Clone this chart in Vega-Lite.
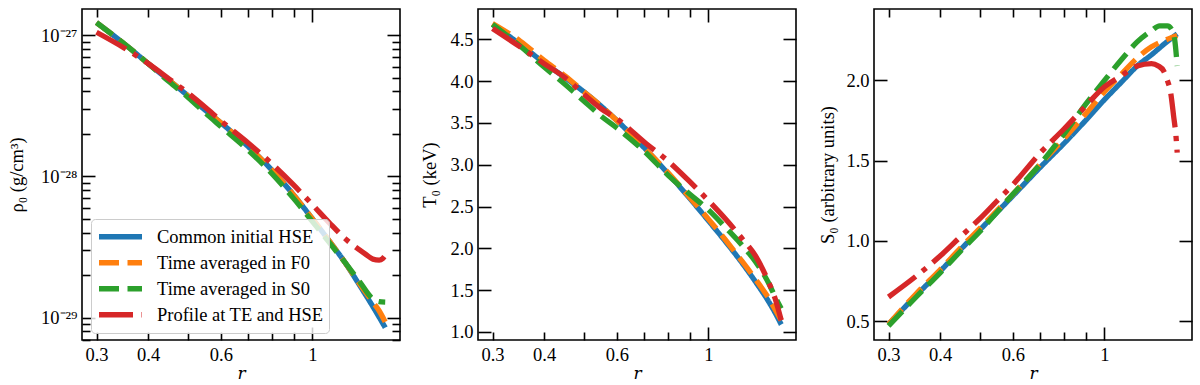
{
  "$schema": "https://vega.github.io/schema/vega-lite/v6.json",
  "padding": {"left": 6, "top": 7, "right": 0, "bottom": 0},
  "bounds": "flush",
  "spacing": 78,
  "resolve": {"scale": {"color": "independent", "strokeDash": "independent"}},
  "datasets": {
    "rho": [
      {"s": "Common initial HSE", "r": 0.3, "v": 1.23e-27},
      {"s": "Common initial HSE", "r": 0.35, "v": 8.71e-28},
      {"s": "Common initial HSE", "r": 0.4, "v": 6.31e-28},
      {"s": "Common initial HSE", "r": 0.45, "v": 4.79e-28},
      {"s": "Common initial HSE", "r": 0.5, "v": 3.72e-28},
      {"s": "Common initial HSE", "r": 0.55, "v": 2.95e-28},
      {"s": "Common initial HSE", "r": 0.6, "v": 2.40e-28},
      {"s": "Common initial HSE", "r": 0.7, "v": 1.62e-28},
      {"s": "Common initial HSE", "r": 0.8, "v": 1.10e-28},
      {"s": "Common initial HSE", "r": 0.9, "v": 7.41e-29},
      {"s": "Common initial HSE", "r": 1.0, "v": 5.01e-29},
      {"s": "Common initial HSE", "r": 1.1, "v": 3.47e-29},
      {"s": "Common initial HSE", "r": 1.2, "v": 2.45e-29},
      {"s": "Common initial HSE", "r": 1.3, "v": 1.70e-29},
      {"s": "Common initial HSE", "r": 1.4, "v": 1.20e-29},
      {"s": "Common initial HSE", "r": 1.45, "v": 1.01e-29},
      {"s": "Common initial HSE", "r": 1.5, "v": 8.51e-30},
      {"s": "Time averaged in F0", "r": 0.3, "v": 1.23e-27},
      {"s": "Time averaged in F0", "r": 0.35, "v": 8.71e-28},
      {"s": "Time averaged in F0", "r": 0.4, "v": 6.31e-28},
      {"s": "Time averaged in F0", "r": 0.45, "v": 4.79e-28},
      {"s": "Time averaged in F0", "r": 0.5, "v": 3.72e-28},
      {"s": "Time averaged in F0", "r": 0.55, "v": 2.95e-28},
      {"s": "Time averaged in F0", "r": 0.6, "v": 2.40e-28},
      {"s": "Time averaged in F0", "r": 0.7, "v": 1.62e-28},
      {"s": "Time averaged in F0", "r": 0.8, "v": 1.10e-28},
      {"s": "Time averaged in F0", "r": 0.9, "v": 7.41e-29},
      {"s": "Time averaged in F0", "r": 1.0, "v": 5.01e-29},
      {"s": "Time averaged in F0", "r": 1.1, "v": 3.47e-29},
      {"s": "Time averaged in F0", "r": 1.2, "v": 2.45e-29},
      {"s": "Time averaged in F0", "r": 1.3, "v": 1.74e-29},
      {"s": "Time averaged in F0", "r": 1.4, "v": 1.29e-29},
      {"s": "Time averaged in F0", "r": 1.45, "v": 1.12e-29},
      {"s": "Time averaged in F0", "r": 1.5, "v": 9.33e-30},
      {"s": "Time averaged in S0", "r": 0.3, "v": 1.23e-27},
      {"s": "Time averaged in S0", "r": 0.35, "v": 8.71e-28},
      {"s": "Time averaged in S0", "r": 0.4, "v": 6.31e-28},
      {"s": "Time averaged in S0", "r": 0.45, "v": 4.68e-28},
      {"s": "Time averaged in S0", "r": 0.5, "v": 3.63e-28},
      {"s": "Time averaged in S0", "r": 0.55, "v": 2.82e-28},
      {"s": "Time averaged in S0", "r": 0.6, "v": 2.26e-28},
      {"s": "Time averaged in S0", "r": 0.7, "v": 1.53e-28},
      {"s": "Time averaged in S0", "r": 0.8, "v": 1.04e-28},
      {"s": "Time averaged in S0", "r": 0.9, "v": 7.00e-29},
      {"s": "Time averaged in S0", "r": 1.0, "v": 4.79e-29},
      {"s": "Time averaged in S0", "r": 1.1, "v": 3.39e-29},
      {"s": "Time averaged in S0", "r": 1.2, "v": 2.45e-29},
      {"s": "Time averaged in S0", "r": 1.3, "v": 1.80e-29},
      {"s": "Time averaged in S0", "r": 1.4, "v": 1.36e-29},
      {"s": "Time averaged in S0", "r": 1.45, "v": 1.30e-29},
      {"s": "Time averaged in S0", "r": 1.5, "v": 1.29e-29},
      {"s": "Profile at TE and HSE", "r": 0.3, "v": 1.05e-27},
      {"s": "Profile at TE and HSE", "r": 0.35, "v": 8.13e-28},
      {"s": "Profile at TE and HSE", "r": 0.4, "v": 6.31e-28},
      {"s": "Profile at TE and HSE", "r": 0.45, "v": 4.90e-28},
      {"s": "Profile at TE and HSE", "r": 0.5, "v": 3.89e-28},
      {"s": "Profile at TE and HSE", "r": 0.55, "v": 3.09e-28},
      {"s": "Profile at TE and HSE", "r": 0.6, "v": 2.48e-28},
      {"s": "Profile at TE and HSE", "r": 0.7, "v": 1.72e-28},
      {"s": "Profile at TE and HSE", "r": 0.8, "v": 1.22e-28},
      {"s": "Profile at TE and HSE", "r": 0.9, "v": 8.71e-29},
      {"s": "Profile at TE and HSE", "r": 1.0, "v": 6.31e-29},
      {"s": "Profile at TE and HSE", "r": 1.1, "v": 4.68e-29},
      {"s": "Profile at TE and HSE", "r": 1.2, "v": 3.63e-29},
      {"s": "Profile at TE and HSE", "r": 1.3, "v": 3.02e-29},
      {"s": "Profile at TE and HSE", "r": 1.35, "v": 2.79e-29},
      {"s": "Profile at TE and HSE", "r": 1.4, "v": 2.60e-29},
      {"s": "Profile at TE and HSE", "r": 1.45, "v": 2.56e-29},
      {"s": "Profile at TE and HSE", "r": 1.48, "v": 2.63e-29},
      {"s": "Profile at TE and HSE", "r": 1.5, "v": 2.75e-29}
    ],
    "T": [
      {"s": "Common initial HSE", "r": 0.3, "v": 4.68},
      {"s": "Common initial HSE", "r": 0.35, "v": 4.44},
      {"s": "Common initial HSE", "r": 0.4, "v": 4.22},
      {"s": "Common initial HSE", "r": 0.45, "v": 4.04},
      {"s": "Common initial HSE", "r": 0.5, "v": 3.87},
      {"s": "Common initial HSE", "r": 0.55, "v": 3.70},
      {"s": "Common initial HSE", "r": 0.6, "v": 3.53},
      {"s": "Common initial HSE", "r": 0.7, "v": 3.20},
      {"s": "Common initial HSE", "r": 0.8, "v": 2.89},
      {"s": "Common initial HSE", "r": 0.9, "v": 2.60},
      {"s": "Common initial HSE", "r": 1.0, "v": 2.33},
      {"s": "Common initial HSE", "r": 1.1, "v": 2.08},
      {"s": "Common initial HSE", "r": 1.2, "v": 1.84},
      {"s": "Common initial HSE", "r": 1.3, "v": 1.60},
      {"s": "Common initial HSE", "r": 1.4, "v": 1.36},
      {"s": "Common initial HSE", "r": 1.45, "v": 1.23},
      {"s": "Common initial HSE", "r": 1.5, "v": 1.09},
      {"s": "Time averaged in F0", "r": 0.3, "v": 4.69},
      {"s": "Time averaged in F0", "r": 0.35, "v": 4.48},
      {"s": "Time averaged in F0", "r": 0.4, "v": 4.25},
      {"s": "Time averaged in F0", "r": 0.45, "v": 4.06},
      {"s": "Time averaged in F0", "r": 0.5, "v": 3.87},
      {"s": "Time averaged in F0", "r": 0.55, "v": 3.70},
      {"s": "Time averaged in F0", "r": 0.6, "v": 3.53},
      {"s": "Time averaged in F0", "r": 0.7, "v": 3.20},
      {"s": "Time averaged in F0", "r": 0.8, "v": 2.90},
      {"s": "Time averaged in F0", "r": 0.9, "v": 2.61},
      {"s": "Time averaged in F0", "r": 1.0, "v": 2.35},
      {"s": "Time averaged in F0", "r": 1.1, "v": 2.10},
      {"s": "Time averaged in F0", "r": 1.2, "v": 1.86},
      {"s": "Time averaged in F0", "r": 1.3, "v": 1.63},
      {"s": "Time averaged in F0", "r": 1.4, "v": 1.40},
      {"s": "Time averaged in F0", "r": 1.45, "v": 1.27},
      {"s": "Time averaged in F0", "r": 1.5, "v": 1.14},
      {"s": "Time averaged in S0", "r": 0.3, "v": 4.68},
      {"s": "Time averaged in S0", "r": 0.35, "v": 4.42},
      {"s": "Time averaged in S0", "r": 0.4, "v": 4.17},
      {"s": "Time averaged in S0", "r": 0.45, "v": 3.96},
      {"s": "Time averaged in S0", "r": 0.5, "v": 3.76},
      {"s": "Time averaged in S0", "r": 0.55, "v": 3.58},
      {"s": "Time averaged in S0", "r": 0.6, "v": 3.44},
      {"s": "Time averaged in S0", "r": 0.7, "v": 3.16},
      {"s": "Time averaged in S0", "r": 0.8, "v": 2.87},
      {"s": "Time averaged in S0", "r": 0.9, "v": 2.65},
      {"s": "Time averaged in S0", "r": 1.0, "v": 2.46},
      {"s": "Time averaged in S0", "r": 1.1, "v": 2.25},
      {"s": "Time averaged in S0", "r": 1.2, "v": 2.05},
      {"s": "Time averaged in S0", "r": 1.3, "v": 1.84},
      {"s": "Time averaged in S0", "r": 1.4, "v": 1.58},
      {"s": "Time averaged in S0", "r": 1.45, "v": 1.42},
      {"s": "Time averaged in S0", "r": 1.5, "v": 1.28},
      {"s": "Profile at TE and HSE", "r": 0.3, "v": 4.63},
      {"s": "Profile at TE and HSE", "r": 0.35, "v": 4.41},
      {"s": "Profile at TE and HSE", "r": 0.4, "v": 4.21},
      {"s": "Profile at TE and HSE", "r": 0.45, "v": 4.04},
      {"s": "Profile at TE and HSE", "r": 0.5, "v": 3.84},
      {"s": "Profile at TE and HSE", "r": 0.55, "v": 3.67},
      {"s": "Profile at TE and HSE", "r": 0.6, "v": 3.55},
      {"s": "Profile at TE and HSE", "r": 0.7, "v": 3.27},
      {"s": "Profile at TE and HSE", "r": 0.8, "v": 3.04},
      {"s": "Profile at TE and HSE", "r": 0.9, "v": 2.80},
      {"s": "Profile at TE and HSE", "r": 1.0, "v": 2.57},
      {"s": "Profile at TE and HSE", "r": 1.1, "v": 2.35},
      {"s": "Profile at TE and HSE", "r": 1.2, "v": 2.13},
      {"s": "Profile at TE and HSE", "r": 1.3, "v": 1.91},
      {"s": "Profile at TE and HSE", "r": 1.4, "v": 1.59},
      {"s": "Profile at TE and HSE", "r": 1.45, "v": 1.40},
      {"s": "Profile at TE and HSE", "r": 1.5, "v": 1.14}
    ],
    "S": [
      {"s": "Common initial HSE", "r": 0.3, "v": 0.48},
      {"s": "Common initial HSE", "r": 0.35, "v": 0.66},
      {"s": "Common initial HSE", "r": 0.4, "v": 0.81},
      {"s": "Common initial HSE", "r": 0.45, "v": 0.95},
      {"s": "Common initial HSE", "r": 0.5, "v": 1.07},
      {"s": "Common initial HSE", "r": 0.55, "v": 1.18},
      {"s": "Common initial HSE", "r": 0.6, "v": 1.28},
      {"s": "Common initial HSE", "r": 0.7, "v": 1.46},
      {"s": "Common initial HSE", "r": 0.8, "v": 1.61},
      {"s": "Common initial HSE", "r": 0.9, "v": 1.75},
      {"s": "Common initial HSE", "r": 1.0, "v": 1.88},
      {"s": "Common initial HSE", "r": 1.1, "v": 1.99},
      {"s": "Common initial HSE", "r": 1.2, "v": 2.09},
      {"s": "Common initial HSE", "r": 1.3, "v": 2.16},
      {"s": "Common initial HSE", "r": 1.4, "v": 2.23},
      {"s": "Common initial HSE", "r": 1.5, "v": 2.29},
      {"s": "Time averaged in F0", "r": 0.3, "v": 0.48},
      {"s": "Time averaged in F0", "r": 0.35, "v": 0.67},
      {"s": "Time averaged in F0", "r": 0.4, "v": 0.82},
      {"s": "Time averaged in F0", "r": 0.45, "v": 0.96},
      {"s": "Time averaged in F0", "r": 0.5, "v": 1.08},
      {"s": "Time averaged in F0", "r": 0.55, "v": 1.19},
      {"s": "Time averaged in F0", "r": 0.6, "v": 1.29},
      {"s": "Time averaged in F0", "r": 0.7, "v": 1.48},
      {"s": "Time averaged in F0", "r": 0.8, "v": 1.64},
      {"s": "Time averaged in F0", "r": 0.9, "v": 1.79},
      {"s": "Time averaged in F0", "r": 1.0, "v": 1.93},
      {"s": "Time averaged in F0", "r": 1.1, "v": 2.04},
      {"s": "Time averaged in F0", "r": 1.2, "v": 2.14},
      {"s": "Time averaged in F0", "r": 1.3, "v": 2.21},
      {"s": "Time averaged in F0", "r": 1.4, "v": 2.25},
      {"s": "Time averaged in F0", "r": 1.5, "v": 2.28},
      {"s": "Time averaged in S0", "r": 0.3, "v": 0.47},
      {"s": "Time averaged in S0", "r": 0.35, "v": 0.65},
      {"s": "Time averaged in S0", "r": 0.4, "v": 0.80},
      {"s": "Time averaged in S0", "r": 0.45, "v": 0.94},
      {"s": "Time averaged in S0", "r": 0.5, "v": 1.06},
      {"s": "Time averaged in S0", "r": 0.55, "v": 1.18},
      {"s": "Time averaged in S0", "r": 0.6, "v": 1.29},
      {"s": "Time averaged in S0", "r": 0.7, "v": 1.48},
      {"s": "Time averaged in S0", "r": 0.8, "v": 1.67},
      {"s": "Time averaged in S0", "r": 0.9, "v": 1.85},
      {"s": "Time averaged in S0", "r": 1.0, "v": 2.00},
      {"s": "Time averaged in S0", "r": 1.1, "v": 2.13},
      {"s": "Time averaged in S0", "r": 1.2, "v": 2.24},
      {"s": "Time averaged in S0", "r": 1.3, "v": 2.31},
      {"s": "Time averaged in S0", "r": 1.36, "v": 2.34},
      {"s": "Time averaged in S0", "r": 1.42, "v": 2.34},
      {"s": "Time averaged in S0", "r": 1.46, "v": 2.31},
      {"s": "Time averaged in S0", "r": 1.48, "v": 2.25},
      {"s": "Time averaged in S0", "r": 1.5, "v": 2.09},
      {"s": "Profile at TE and HSE", "r": 0.3, "v": 0.65},
      {"s": "Profile at TE and HSE", "r": 0.35, "v": 0.78},
      {"s": "Profile at TE and HSE", "r": 0.4, "v": 0.905},
      {"s": "Profile at TE and HSE", "r": 0.45, "v": 1.03},
      {"s": "Profile at TE and HSE", "r": 0.5, "v": 1.14},
      {"s": "Profile at TE and HSE", "r": 0.55, "v": 1.25},
      {"s": "Profile at TE and HSE", "r": 0.6, "v": 1.35},
      {"s": "Profile at TE and HSE", "r": 0.7, "v": 1.55},
      {"s": "Profile at TE and HSE", "r": 0.8, "v": 1.70},
      {"s": "Profile at TE and HSE", "r": 0.9, "v": 1.84},
      {"s": "Profile at TE and HSE", "r": 1.0, "v": 1.96},
      {"s": "Profile at TE and HSE", "r": 1.1, "v": 2.03},
      {"s": "Profile at TE and HSE", "r": 1.2, "v": 2.09},
      {"s": "Profile at TE and HSE", "r": 1.3, "v": 2.105},
      {"s": "Profile at TE and HSE", "r": 1.35, "v": 2.09},
      {"s": "Profile at TE and HSE", "r": 1.39, "v": 2.06},
      {"s": "Profile at TE and HSE", "r": 1.42, "v": 2.00},
      {"s": "Profile at TE and HSE", "r": 1.445, "v": 1.93},
      {"s": "Profile at TE and HSE", "r": 1.47, "v": 1.78},
      {"s": "Profile at TE and HSE", "r": 1.49, "v": 1.65},
      {"s": "Profile at TE and HSE", "r": 1.5, "v": 1.55}
    ]
  },
  "hconcat": [
    {
      "width": 318, "height": 331,
      "data": {"name": "rho"},
      "resolve": {"axis": {"x": "independent", "y": "independent"}},
      "layer": [
        {
          "mark": {"type": "line", "strokeWidth": 5.3, "interpolate": "monotone"},
          "encoding": {
            "x": {"field": "r", "type": "quantitative", "scale": {"type": "log", "domain": [0.2767, 1.629], "nice": false},
              "axis": {"orient": "bottom", "values": [0.3, 0.4, 0.5, 0.6, 0.7, 0.8, 0.9, 1], "format": "~g",
                "labelExpr": "(datum.value == 0.5 || (datum.value > 0.65 && datum.value < 0.95)) ? '' : datum.label",
                "tickSize": {"condition": {"test": "datum.value == 1", "value": -13}, "value": -8},
                "labelPadding": {"condition": {"test": "datum.value == 1", "value": 18}, "value": 13},
                "title": "r", "titleFont": "DejaVu Serif", "titleFontSize": 17, "titleFontStyle": "italic", "titleY": 25}},
            "y": {"field": "v", "type": "quantitative", "scale": {"type": "log", "domain": [6.95e-30, 1.535e-27], "nice": false},
              "axis": {"orient": "left",
                "values": [7e-30, 8e-30, 9e-30, 1e-29, 2e-29, 3e-29, 4e-29, 5e-29, 6e-29, 7e-29, 8e-29, 9e-29, 1e-28, 2e-28, 3e-28, 4e-28, 5e-28, 6e-28, 7e-28, 8e-28, 9e-28, 1e-27],
                "labelExpr": "abs(log(datum.value)/LN10 - round(log(datum.value)/LN10)) < 0.001 ? (round(log(datum.value)/LN10) == -27 ? '10⁻²⁷' : round(log(datum.value)/LN10) == -28 ? '10⁻²⁸' : '10⁻²⁹') : ''",
                "tickSize": {"condition": {"test": "abs(log(datum.value)/LN10 - round(log(datum.value)/LN10)) < 0.001", "value": -13}, "value": -8},
                "labelPadding": {"condition": {"test": "abs(log(datum.value)/LN10 - round(log(datum.value)/LN10)) < 0.001", "value": 18}, "value": 13},
                "title": "ρ₀ (g/cm³)", "titleX": -56}},
            "color": {"field": "s", "type": "nominal",
              "scale": {"domain": ["Common initial HSE", "Time averaged in F0", "Time averaged in S0", "Profile at TE and HSE"], "range": ["#1f77b4", "#ff7f0e", "#2ca02c", "#d62728"]},
              "legend": {"orient": "none", "legendX": 9, "legendY": 210, "title": null, "symbolType": "stroke", "symbolSize": 1849, "symbolStrokeWidth": 5.3, "labelOffset": 12, "padding": 5, "fillColor": "rgba(255,255,255,0.8)", "strokeColor": "#cccccc", "cornerRadius": 4, "clipHeight": 25.5, "rowPadding": 0, "labelLimit": 400, "labelFont": "Liberation Serif", "labelFontSize": 18.5, "labelColor": "black"}},
            "strokeDash": {"field": "s", "type": "nominal",
              "scale": {"domain": ["Common initial HSE", "Time averaged in F0", "Time averaged in S0", "Profile at TE and HSE"], "range": [[1, 0], [20, 8.5], [20, 8.5], [34, 8.5, 5.3, 8.5]]},
              "legend": {"orient": "none", "legendX": 9, "legendY": 210, "title": null, "symbolType": "stroke", "symbolSize": 1849, "symbolStrokeWidth": 5.3, "labelOffset": 12, "padding": 5, "fillColor": "rgba(255,255,255,0.8)", "strokeColor": "#cccccc", "cornerRadius": 4, "clipHeight": 25.5, "rowPadding": 0, "labelLimit": 400, "labelFont": "Liberation Serif", "labelFontSize": 18.5, "labelColor": "black"}}
          }
        },
        {
          "mark": {"type": "point", "opacity": 0},
          "encoding": {
            "x": {"field": "r", "type": "quantitative", "scale": {"type": "log", "domain": [0.2767, 1.629], "nice": false},
              "axis": {"orient": "top", "values": [0.3, 0.4, 0.5, 0.6, 0.7, 0.8, 0.9, 1], "labels": false,
                "tickSize": {"condition": {"test": "datum.value == 1", "value": -13}, "value": -8}, "title": null}},
            "y": {"field": "v", "type": "quantitative", "scale": {"type": "log", "domain": [6.95e-30, 1.535e-27], "nice": false},
              "axis": {"orient": "right",
                "values": [7e-30, 8e-30, 9e-30, 1e-29, 2e-29, 3e-29, 4e-29, 5e-29, 6e-29, 7e-29, 8e-29, 9e-29, 1e-28, 2e-28, 3e-28, 4e-28, 5e-28, 6e-28, 7e-28, 8e-28, 9e-28, 1e-27],
                "labels": false,
                "tickSize": {"condition": {"test": "abs(log(datum.value)/LN10 - round(log(datum.value)/LN10)) < 0.001", "value": -13}, "value": -8},
                "title": null}}
          }
        }
      ]
    },
    {
      "width": 318, "height": 331,
      "data": {"name": "T"},
      "resolve": {"axis": {"x": "independent", "y": "independent"}},
      "layer": [
        {
          "mark": {"type": "line", "strokeWidth": 5.3, "interpolate": "monotone"},
          "encoding": {
            "x": {"field": "r", "type": "quantitative", "scale": {"type": "log", "domain": [0.2767, 1.629], "nice": false},
              "axis": {"orient": "bottom", "values": [0.3, 0.4, 0.5, 0.6, 0.7, 0.8, 0.9, 1], "format": "~g",
                "labelExpr": "(datum.value == 0.5 || (datum.value > 0.65 && datum.value < 0.95)) ? '' : datum.label",
                "tickSize": {"condition": {"test": "datum.value == 1", "value": -13}, "value": -8},
                "labelPadding": {"condition": {"test": "datum.value == 1", "value": 18}, "value": 13},
                "title": "r", "titleFont": "DejaVu Serif", "titleFontSize": 17, "titleFontStyle": "italic", "titleY": 25}},
            "y": {"field": "v", "type": "quantitative", "scale": {"domain": [0.904, 4.863], "nice": false, "zero": false},
              "axis": {"orient": "left", "values": [1.0, 1.5, 2.0, 2.5, 3.0, 3.5, 4.0, 4.5], "format": ".1f",
                "tickSize": -13, "labelPadding": 18, "title": "T₀ (keV)", "titleX": -39}},
            "color": {"field": "s", "type": "nominal",
              "scale": {"domain": ["Common initial HSE", "Time averaged in F0", "Time averaged in S0", "Profile at TE and HSE"], "range": ["#1f77b4", "#ff7f0e", "#2ca02c", "#d62728"]},
              "legend": null},
            "strokeDash": {"field": "s", "type": "nominal",
              "scale": {"domain": ["Common initial HSE", "Time averaged in F0", "Time averaged in S0", "Profile at TE and HSE"], "range": [[1, 0], [20, 8.5], [20, 8.5], [34, 8.5, 5.3, 8.5]]},
              "legend": null}
          }
        },
        {
          "mark": {"type": "point", "opacity": 0},
          "encoding": {
            "x": {"field": "r", "type": "quantitative", "scale": {"type": "log", "domain": [0.2767, 1.629], "nice": false},
              "axis": {"orient": "top", "values": [0.3, 0.4, 0.5, 0.6, 0.7, 0.8, 0.9, 1], "labels": false,
                "tickSize": {"condition": {"test": "datum.value == 1", "value": -13}, "value": -8}, "title": null}},
            "y": {"field": "v", "type": "quantitative", "scale": {"domain": [0.904, 4.863], "nice": false, "zero": false},
              "axis": {"orient": "right", "values": [1.0, 1.5, 2.0, 2.5, 3.0, 3.5, 4.0, 4.5], "labels": false, "tickSize": -13, "title": null}}
          }
        }
      ]
    },
    {
      "width": 318, "height": 331,
      "data": {"name": "S"},
      "resolve": {"axis": {"x": "independent", "y": "independent"}},
      "layer": [
        {
          "mark": {"type": "line", "strokeWidth": 5.3, "interpolate": "monotone"},
          "encoding": {
            "x": {"field": "r", "type": "quantitative", "scale": {"type": "log", "domain": [0.2767, 1.629], "nice": false},
              "axis": {"orient": "bottom", "values": [0.3, 0.4, 0.5, 0.6, 0.7, 0.8, 0.9, 1], "format": "~g",
                "labelExpr": "(datum.value == 0.5 || (datum.value > 0.65 && datum.value < 0.95)) ? '' : datum.label",
                "tickSize": {"condition": {"test": "datum.value == 1", "value": -13}, "value": -8},
                "labelPadding": {"condition": {"test": "datum.value == 1", "value": 18}, "value": 13},
                "title": "r", "titleFont": "DejaVu Serif", "titleFontSize": 17, "titleFontStyle": "italic", "titleY": 25}},
            "y": {"field": "v", "type": "quantitative", "scale": {"domain": [0.382, 2.445], "nice": false, "zero": false},
              "axis": {"orient": "left", "values": [0.5, 1.0, 1.5, 2.0], "format": ".1f",
                "tickSize": -13, "labelPadding": 18, "title": "S₀ (arbitrary units)", "titleX": -37}},
            "color": {"field": "s", "type": "nominal",
              "scale": {"domain": ["Common initial HSE", "Time averaged in F0", "Time averaged in S0", "Profile at TE and HSE"], "range": ["#1f77b4", "#ff7f0e", "#2ca02c", "#d62728"]},
              "legend": null},
            "strokeDash": {"field": "s", "type": "nominal",
              "scale": {"domain": ["Common initial HSE", "Time averaged in F0", "Time averaged in S0", "Profile at TE and HSE"], "range": [[1, 0], [20, 8.5], [20, 8.5], [34, 8.5, 5.3, 8.5]]},
              "legend": null}
          }
        },
        {
          "mark": {"type": "point", "opacity": 0},
          "encoding": {
            "x": {"field": "r", "type": "quantitative", "scale": {"type": "log", "domain": [0.2767, 1.629], "nice": false},
              "axis": {"orient": "top", "values": [0.3, 0.4, 0.5, 0.6, 0.7, 0.8, 0.9, 1], "labels": false,
                "tickSize": {"condition": {"test": "datum.value == 1", "value": -13}, "value": -8}, "title": null}},
            "y": {"field": "v", "type": "quantitative", "scale": {"domain": [0.382, 2.445], "nice": false, "zero": false},
              "axis": {"orient": "right", "values": [0.5, 1.0, 1.5, 2.0], "labels": false, "tickSize": -13, "title": null}}
          }
        }
      ]
    }
  ],
  "config": {
    "font": "Liberation Serif",
    "view": {"stroke": "black", "strokeWidth": 1.6},
    "axis": {"labelFont": "Liberation Serif", "labelFontSize": 18.5, "labelColor": "black", "titleFont": "Liberation Serif", "titleFontSize": 18.5, "titleFontWeight": "normal", "titleColor": "black", "tickColor": "black", "tickWidth": 1.6, "grid": false, "domain": false, "labelFlush": false, "labelOverlap": false, "labelBound": false},
    "legend": {"labelFont": "Liberation Serif", "labelFontSize": 18.5, "labelColor": "black"}
  }
}
